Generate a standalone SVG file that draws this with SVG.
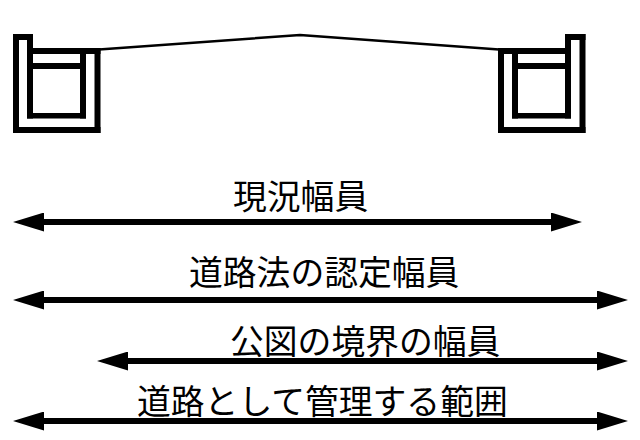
<svg xmlns="http://www.w3.org/2000/svg" width="640" height="440" viewBox="0 0 640 440">
  <style>
    .wall { fill: #000; }
    .roof { fill: none; stroke: #000; stroke-width: 2.5; }
    .span { stroke: #000; stroke-width: 6; fill: none; marker-start: url(#tipStart); marker-end: url(#tipEnd); }
    .label { font-family: "Noto Sans CJK JP", sans-serif; font-size: 33.8px; fill: #000; }
  </style>
  <defs>
    <marker id="tipEnd" markerUnits="userSpaceOnUse" markerWidth="31" markerHeight="19" refX="0" refY="9.500" orient="auto" viewBox="0 0 31 19">
      <path d="M0 0L31 9.500L0 19Z" fill="#000"/>
    </marker>
    <marker id="tipStart" markerUnits="userSpaceOnUse" markerWidth="31" markerHeight="19" refX="31" refY="9.500" orient="auto" viewBox="0 0 31 19">
      <path d="M31 0L0 9.500L31 19Z" fill="#000"/>
    </marker>
  </defs>

  <!-- left side ditch and cover -->
  <g id="ditch-left" class="wall">
    <rect x="13" y="34" width="6" height="99"/>
    <rect x="13" y="34" width="20" height="6"/>
    <rect x="27" y="34" width="6" height="84.500"/>
    <rect x="13" y="127" width="87.500" height="6"/>
    <rect x="94.500" y="48" width="6" height="85"/>
    <rect x="33" y="48" width="67.500" height="6"/>
    <rect x="80" y="48" width="6" height="70.500"/>
    <rect x="33" y="63" width="47" height="6"/>
    <rect x="27" y="113" width="59" height="5.500"/>
  </g>

  <!-- right side ditch and cover -->
  <g id="ditch-right" class="wall">
    <rect x="579.500" y="34" width="6" height="99"/>
    <rect x="565" y="34" width="20.500" height="6"/>
    <rect x="565" y="34" width="6" height="84.500"/>
    <rect x="498" y="127" width="87.500" height="6"/>
    <rect x="498" y="48" width="6" height="85"/>
    <rect x="498" y="48" width="67" height="6"/>
    <rect x="512" y="48" width="6" height="70.500"/>
    <rect x="518" y="63" width="47" height="6"/>
    <rect x="512" y="113" width="59" height="5.500"/>
  </g>

  <g id="road-surface">
    <polyline class="roof" points="99,49.500 300,35 499,49.500"/>
  </g>

  <g id="connectors">
    <line class="span" x1="44" y1="222" x2="551" y2="222"/>
    <line class="span" x1="44" y1="300" x2="597" y2="300"/>
    <line class="span" x1="128" y1="361" x2="597" y2="361"/>
    <line class="span" x1="44" y1="421" x2="597" y2="421"/>
  </g>

  <g id="label-current"><text class="label" x="233" y="209">現況幅員</text></g>
  <g id="label-certified"><text class="label" x="189" y="285">道路法の認定幅員</text></g>
  <g id="label-cadastral"><text class="label" x="230" y="354">公図の境界の幅員</text></g>
  <g id="label-managed"><text class="label" x="137" y="414">道路として管理する範囲</text></g>
</svg>
